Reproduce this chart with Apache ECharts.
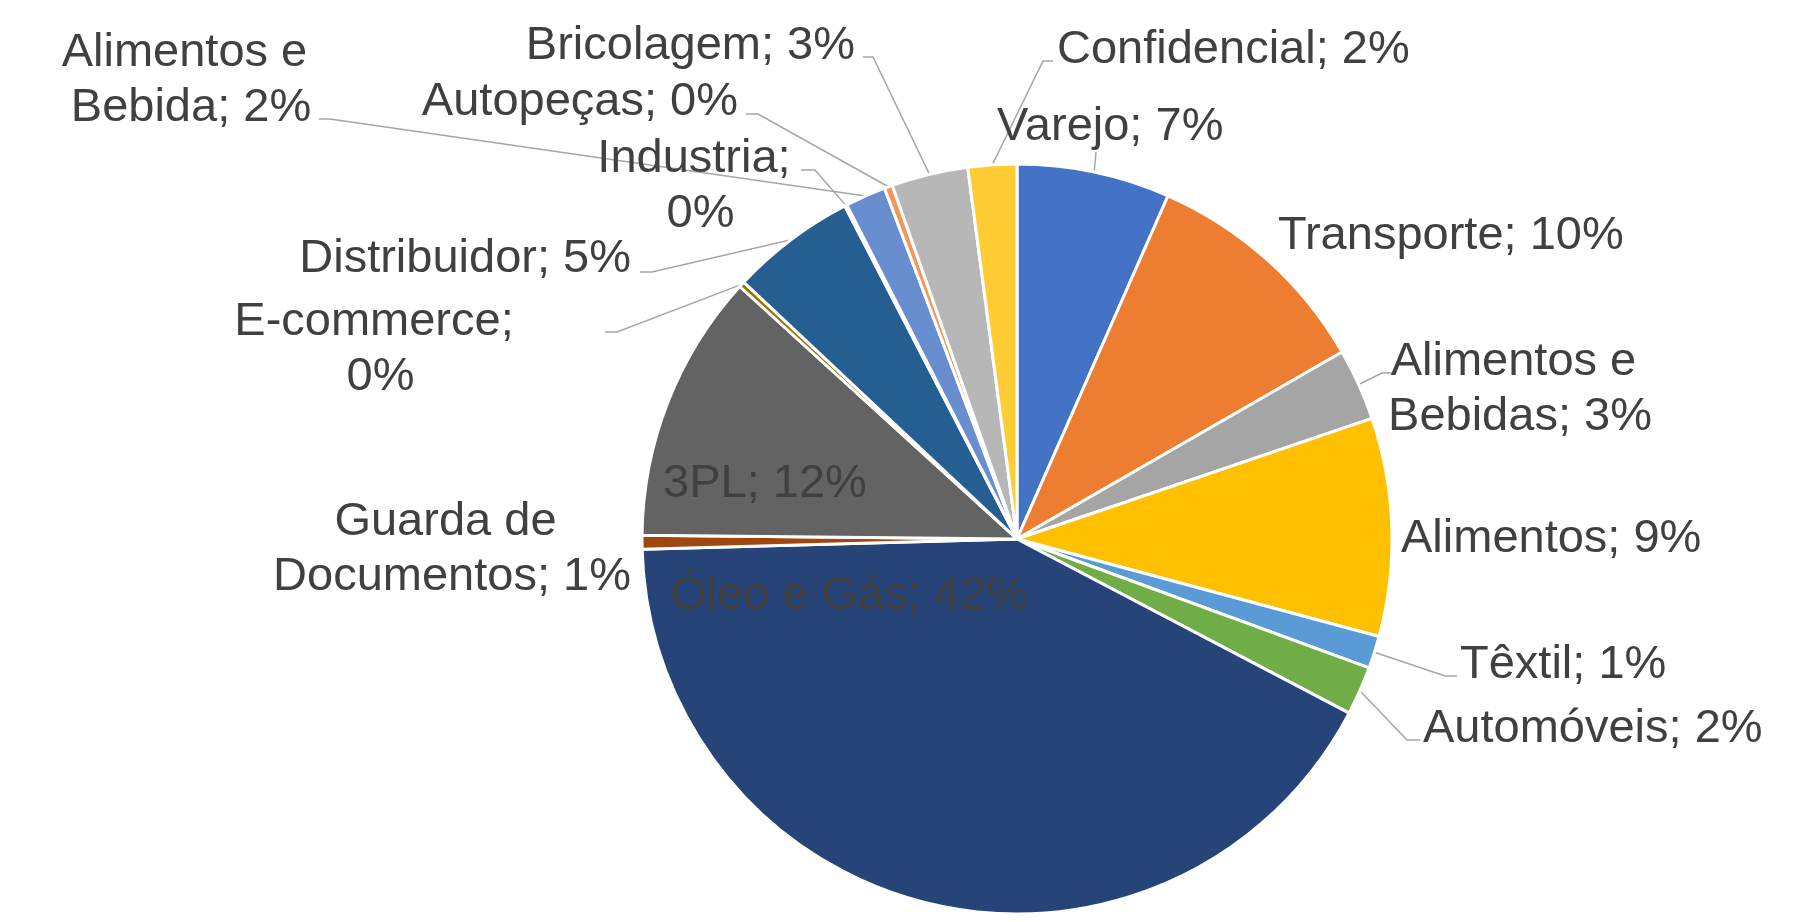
<!DOCTYPE html>
<html>
<head>
<meta charset="utf-8">
<script src="https://cdn.jsdelivr.net/npm/echarts@6/dist/echarts.min.js"></script>
<style>
  html, body { margin: 0; padding: 0; background: #ffffff; }
  #chart { width: 1819px; height: 922px; }
</style>
</head>
<body>
<div id="chart"></div>
<script>
// ---- data ----
const categories = ['Varejo', 'Transporte', 'Alimentos e Bebidas', 'Alimentos', 'Têxtil', 'Automóveis',
  'Óleo e Gás', 'Guarda de Documentos', '3PL', 'E-commerce', 'Distribuidor', 'Industria',
  'Alimentos e Bebida', 'Autopeças', 'Bricolagem', 'Confidencial'];
const values = [6.6, 10.1, 3.1, 9.4, 1.4, 2.1, 41.9, 0.6, 11.6, 0.25, 5.4, 0.1, 1.75, 0.35, 3.3, 2.1];

// ---- styles ----
const colors = ['#4472C4', '#ED7D31', '#A5A5A5', '#FFC000', '#5B9BD5', '#70AD47', '#264478', '#9E480E',
  '#636363', '#997300', '#255E91', '#43682B', '#698ED0', '#F1975A', '#B7B7B7', '#FFCD33'];
// label wrap widths (px) for the two-line labels, 0 = single line
const wrapWidth = [0, 0, 285, 0, 0, 0, 0, 380, 0, 292, 0, 205, 262, 0, 0, 0];
const hasLine = [true, false, true, false, true, true, false, false, false, true, true, true, true, true, true, true];
// label placement (text anchor, leader line elbow/end)
const labelDy = 2;
const labelPos = [
  { x: 997, y: 125, align: 'left', end: [1096, 152] },
  { x: 1278, y: 234, align: 'left' },
  { x: 1520, y: 388, align: 'center', elbow: [1382, 373], end: [1393, 373] },
  { x: 1401, y: 537, align: 'left' },
  { x: 1460, y: 663, align: 'left', elbow: [1445, 676], end: [1457, 676] },
  { x: 1423, y: 727, align: 'left', elbow: [1407, 740], end: [1420, 740] },
  { x: 670, y: 594, align: 'left' },
  { x: 452, y: 548, align: 'center' },
  { x: 663, y: 482, align: 'left' },
  { x: 374, y: 348, align: 'center', elbow: [617, 332], end: [605, 332] },
  { x: 631, y: 257, align: 'right', elbow: [652, 272], end: [640, 272] },
  { x: 694, y: 185, align: 'center', elbow: [815, 170], end: [801, 170] },
  { x: 191, y: 79, align: 'center', elbow: [330, 119], end: [319, 119] },
  { x: 738, y: 100, align: 'right', elbow: [758, 114], end: [746, 114] },
  { x: 855, y: 44, align: 'right', elbow: [873, 57], end: [863, 57] },
  { x: 1057, y: 48, align: 'left', elbow: [1043, 61], end: [1053, 61] }
];

const seriesData = categories.map(function (name, i) {
  const item = {
    name: name,
    value: values[i],
    itemStyle: { color: colors[i] },
    labelLine: { show: hasLine[i] }
  };
  if (wrapWidth[i]) {
    item.label = { width: wrapWidth[i], overflow: 'break' };
  }
  return item;
});

const chart = echarts.init(document.getElementById('chart'), null, { renderer: 'canvas' });
chart.setOption({
  backgroundColor: '#ffffff',
  animation: false,
  series: [{
    type: 'pie',
    center: [1017, 539],
    radius: 375,
    startAngle: 90,
    clockwise: true,
    avoidLabelOverlap: false,
    itemStyle: { borderColor: '#ffffff', borderWidth: 3 },
    label: {
      show: true,
      position: 'outside',
      color: '#404040',
      fontFamily: '"Liberation Sans", Arial, sans-serif',
      fontSize: 47,
      lineHeight: 55,
      align: 'center',
      formatter: function (p) { return p.name + '; ' + Math.round(p.percent) + '%'; }
    },
    labelLine: {
      show: true,
      length: 10,
      length2: 10,
      lineStyle: { color: '#A6A6A6', width: 1.5 }
    },
    labelLayout: function (params) {
      const p = labelPos[params.dataIndex];
      const out = { x: p.x, y: p.y + labelDy, align: p.align, verticalAlign: 'middle' };
      if (p.end && params.labelLinePoints) {
        const start = params.labelLinePoints[0];
        out.labelLinePoints = [start, p.elbow || p.end, p.end];
      }
      return out;
    },
    emphasis: { disabled: true },
    data: seriesData
  }]
});
</script>
</body>
</html>
